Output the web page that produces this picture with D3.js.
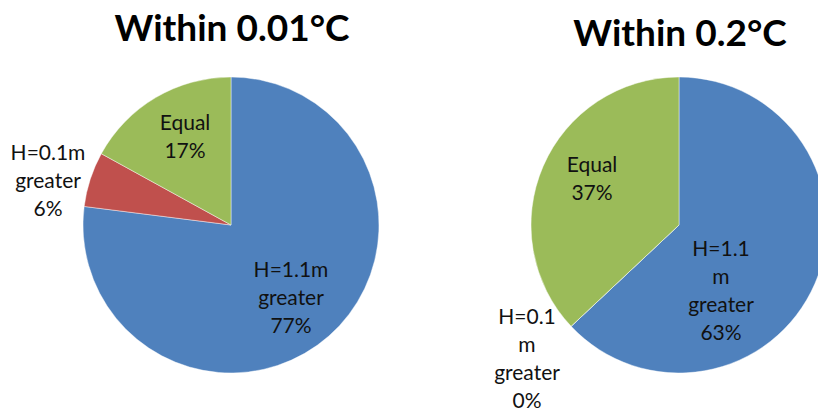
<!DOCTYPE html>
<html>
<head>
<meta charset="utf-8">
<script src="https://cdn.jsdelivr.net/npm/d3@7"></script>
<style>
  html, body { margin: 0; padding: 0; background: #fff; }
  svg { display: block; }
</style>
</head>
<body>
<svg id="chart" width="818" height="417"></svg>
<script>
// Slice categories, drawn clockwise from 12 o'clock
const categories = ["H=1.1m greater", "H=0.1m greater", "Equal"];
const colors = ["#4F81BD", "#C0504D", "#9BBB59"];

// Share of cases (percent) for each tolerance
const within001 = [77, 6, 17];
const within02 = [63, 0, 37];

const titles = ["Within 0.01°C", "Within 0.2°C"];

// Label lines for each slice of each pie
const labels001 = [["H=1.1m", "greater", "77%"], ["H=0.1m", "greater", "6%"], ["Equal", "17%"]];
const labels02 = [["H=1.1", "m", "greater", "63%"], ["H=0.1", "m", "greater", "0%"], ["Equal", "37%"]];

const svg = d3.select("#chart");
const radius = 148;
const lineH = 28;

const pie = d3.pie().sort(null).value(d => d);
const arc = d3.arc().innerRadius(0).outerRadius(radius);

function drawPie(cfg) {
  const g = svg.append("g").attr("transform", `translate(${cfg.cx},${cfg.cy})`);
  const arcs = pie(cfg.values);

  g.selectAll("path")
    .data(arcs)
    .join("path")
    .attr("d", arc)
    .attr("fill", (d, i) => colors[i])
    .attr("stroke", "rgba(255,255,255,0.55)")
    .attr("stroke-width", 0.8);

  svg.append("text")
    .attr("x", cfg.cx + cfg.titleDx)
    .attr("y", cfg.titleY)
    .attr("text-anchor", "middle")
    .attr("font-family", "Lato, 'Open Sans', sans-serif")
    .attr("font-weight", "bold")
    .attr("font-size", 37)
    .attr("fill", "#000")
    .text(cfg.title);

  arcs.forEach((a, i) => {
    const pos = cfg.labelPos[i];
    const lines = cfg.labels[i];
    const t = g.append("text")
      .attr("text-anchor", "middle")
      .attr("font-family", "Lato, 'Open Sans', sans-serif")
      .attr("font-size", 21)
      .attr("fill", "#111");
    lines.forEach((s, k) => {
      t.append("tspan")
        .attr("x", pos[0])
        .attr("y", pos[1] + k * lineH)
        .text(s);
    });
  });
}

// Label anchors are offsets (first baseline) from each pie's centre
drawPie({
  cx: 231, cy: 225, values: within001, labels: labels001,
  title: titles[0], titleY: 41, titleDx: 1,
  labelPos: [[60, 52], [-183, -65], [-46, -95]]
});

drawPie({
  cx: 679, cy: 225, values: within02, labels: labels02,
  title: titles[1], titleY: 46, titleDx: 1,
  labelPos: [[42, 31], [-152, 99], [-87, -53]]
});
</script>
</body>
</html>
